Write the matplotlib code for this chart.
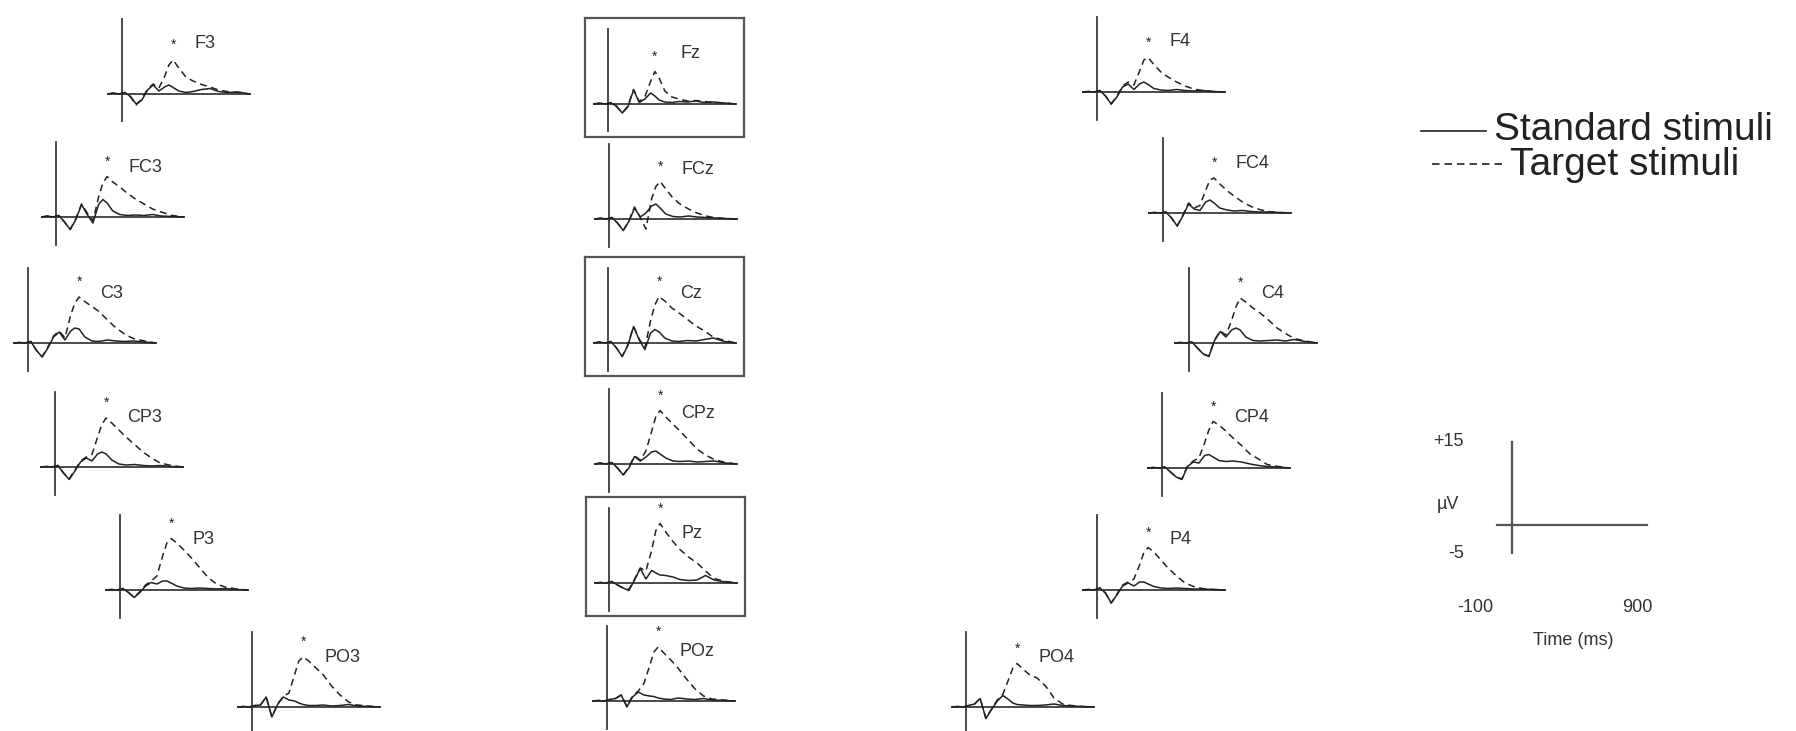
import matplotlib
matplotlib.use("Agg")
import matplotlib.pyplot as plt

plt.rcParams['font.family'] = ['Liberation Sans', 'DejaVu Sans']

# sample times (ms) shared by every waveform
times = [-100, -60, -20, 20, 60, 100, 140, 180, 220, 260, 300, 330, 360,
         400, 450, 500, 560, 620, 680, 740, 820, 900]

# amplitudes in microvolts
f3_standard = [0, 0.2, 0, 0.3, -0.5, -2.0, -1.2, 0.8, 1.8, 0.6, 1.4, 1.8, 1.3, 0.6, 0.3, 0.5, 0.9, 1.1, 0.5, 0.3, 0.4, 0]
f3_target = [0, 0.2, 0, 0.3, -0.6, -2.2, -1.0, 1.0, 2.0, 1.2, 3.5, 5.8, 6.8, 5.2, 3.4, 2.6, 1.9, 1.4, 0.8, 0.5, 0.3, 0]
fc3_standard = [0, 0.2, 0, 0.3, -1.0, -2.5, -0.5, 2.5, 0.5, -1.2, 2.5, 3.5, 2.8, 1.2, 0.5, 0.3, 0.4, 0.3, 0.5, 0.2, 0.1, 0]
fc3_target = [0, 0.2, 0, 0.3, -1.0, -2.5, -0.3, 2.6, 0.8, -0.8, 4.0, 6.8, 8.1, 7.0, 6.0, 4.8, 3.6, 2.6, 1.6, 1.0, 0.3, 0]
c3_standard = [0, 0.1, 0, 0.3, -1.5, -2.8, -1.0, 1.2, 2.2, 0.6, 2.4, 3.0, 2.8, 1.2, 0.4, 0.3, 0.6, 0.4, 0.3, 0.4, 0.2, 0]
c3_target = [0, 0.1, 0, 0.3, -1.5, -2.7, -0.8, 1.4, 2.4, 1.0, 5.5, 8.0, 9.2, 8.3, 7.3, 6.3, 4.6, 3.0, 1.8, 0.9, 0.4, 0]
cp3_standard = [0, 0.1, 0, 0.3, -1.2, -2.5, -0.8, 1.0, 1.8, 1.2, 2.6, 3.0, 2.6, 1.4, 0.6, 0.4, 0.5, 0.3, 0.2, 0.3, 0.1, 0]
cp3_target = [0, 0.1, 0, 0.3, -1.2, -2.4, -0.6, 1.2, 2.0, 2.5, 6.0, 8.5, 9.8, 8.8, 7.4, 6.0, 4.5, 3.0, 1.8, 0.8, 0.3, 0]
p3_standard = [0, 0.1, 0, 0.3, -0.5, -1.5, -0.5, 0.8, 1.5, 1.2, 1.8, 1.8, 1.4, 0.8, 0.4, 0.3, 0.4, 0.3, 0.2, 0.3, 0.1, 0]
p3_target = [0, 0.1, 0, 0.3, -0.5, -1.5, -0.3, 1.0, 1.8, 2.8, 6.8, 9.4, 10.3, 9.4, 8.0, 6.5, 4.5, 2.5, 1.2, 0.6, 0.2, 0]
po3_standard = [0, 0.1, 0, 0.3, 0.4, 2.0, -2.0, 0.5, 2.0, 1.4, 1.2, 0.8, 0.5, 0.3, 0.3, 0.4, 0.2, 0.3, 0.5, 0.2, 0.1, 0]
po3_target = [0, 0.1, 0, 0.3, 0.4, 2.0, -2.0, 0.6, 2.1, 2.8, 6.5, 9.2, 10.0, 9.2, 7.8, 6.5, 4.2, 2.4, 1.0, 0.4, 0.2, 0]

fz_standard = [0, 0.2, 0, 0.2, -0.4, -1.8, -0.6, 2.8, 0.3, 1.0, 2.2, 1.6, 0.8, 0.4, 0.3, 0.5, 0.4, 0.6, 0.3, 0.4, 0.2, 0]
fz_target = [0, 0.1, 0, 0.3, -0.5, -1.8, -0.4, 2.9, 0.5, 1.5, 4.5, 6.5, 5.2, 2.6, 1.4, 1.0, 0.6, 0.7, 0.5, 0.3, 0.2, 0]
fcz_standard = [0, 0.2, 0, 0.3, -0.8, -2.3, -0.5, 2.2, 0.4, 1.2, 2.6, 3.0, 2.2, 1.0, 0.5, 0.4, 0.6, 0.4, 0.3, 0.2, 0.1, 0]
fcz_target = [0, 0.1, 0, 0.3, -0.8, -2.3, -0.3, 2.4, 0.3, -2.0, 4.0, 6.5, 7.5, 6.0, 4.2, 3.0, 2.0, 1.2, 0.6, 0.3, 0.1, 0]
cz_standard = [0, 0.2, 0, 0.3, -1.0, -2.7, -0.5, 3.3, 0.6, -1.3, 2.0, 2.7, 2.2, 1.0, 0.4, 0.3, 0.5, 0.4, 0.7, 1.0, 0.3, 0]
cz_target = [0, 0.2, 0, 0.3, -1.0, -2.7, -0.3, 3.3, 0.8, -1.0, 4.5, 7.6, 9.3, 8.4, 7.0, 6.0, 4.7, 3.4, 2.4, 1.2, 0.5, 0]
cpz_standard = [0, 0.2, 0, 0.3, -0.8, -2.2, -0.8, 1.5, 0.6, 1.4, 2.4, 2.6, 2.0, 1.2, 0.6, 0.5, 0.6, 0.4, 0.5, 0.6, 0.2, 0]
cpz_target = [0, 0.2, 0, 0.3, -0.8, -2.2, -0.6, 1.6, 0.8, 2.6, 6.5, 9.5, 10.7, 9.4, 8.0, 6.6, 4.8, 3.0, 1.8, 0.9, 0.3, 0]
pz_standard = [0, 0.1, 0, 0.3, -0.4, -1.0, -1.5, 0.6, 2.9, 0.8, 2.5, 2.0, 1.6, 1.5, 1.2, 0.7, 0.5, 0.6, 1.5, 0.6, 0.2, 0]
pz_target = [0, 0.1, 0, 0.3, -0.4, -1.0, -1.3, 0.8, 3.0, 2.4, 6.5, 10.5, 11.9, 10.2, 8.3, 6.7, 5.2, 4.0, 2.4, 0.9, 0.3, 0]
poz_standard = [0, 0.1, 0, 0.3, 0.5, 1.2, -1.2, 0.8, 1.8, 1.2, 1.0, 0.9, 0.6, 0.4, 0.3, 0.6, 0.4, 0.3, 0.5, 0.2, 0.1, 0]
poz_target = [0, 0.1, 0, 0.3, 0.5, 1.2, -1.0, 1.0, 2.0, 3.5, 7.0, 9.8, 10.8, 9.6, 8.2, 6.6, 4.4, 2.4, 1.0, 0.4, 0.2, 0]

f4_standard = [0, 0.1, 0, 0.3, -0.8, -2.4, -1.0, 1.0, 1.6, 0.5, 1.6, 2.0, 1.5, 0.7, 0.4, 0.3, 0.5, 0.3, 0.2, 0.3, 0.1, 0]
f4_target = [0, 0.1, 0, 0.3, -0.8, -2.4, -0.8, 1.2, 2.0, 1.4, 4.2, 6.4, 6.9, 5.5, 4.0, 3.0, 2.0, 1.2, 0.6, 0.3, 0.1, 0]
fc4_standard = [0, 0.1, 0, 0.2, -1.0, -2.6, -0.6, 1.8, 0.8, 0.5, 2.2, 2.6, 2.0, 1.0, 0.6, 0.4, 0.5, 0.3, 0.2, 0.2, 0.1, 0]
fc4_target = [0, 0.1, 0, 0.2, -1.0, -2.6, -0.4, 2.0, 1.0, 1.5, 4.5, 6.6, 7.0, 5.8, 4.5, 3.4, 2.2, 1.3, 0.7, 0.3, 0.1, 0]
c4_standard = [0, 0.1, 0, 0.2, -1.0, -2.2, -2.7, 0.5, 2.3, 1.2, 2.6, 3.0, 2.6, 1.2, 0.5, 0.4, 0.5, 0.6, 0.4, 0.7, 0.3, 0]
c4_target = [0, 0.1, 0, 0.2, -1.0, -2.2, -2.6, 0.6, 2.4, 1.6, 4.5, 7.2, 9.0, 8.2, 7.0, 6.0, 4.6, 3.0, 1.9, 0.9, 0.4, 0]
cp4_standard = [0, 0.1, 0, 0.2, -0.8, -1.8, -2.3, 0.3, 1.2, 1.0, 2.5, 2.7, 2.2, 1.5, 1.3, 1.4, 1.2, 0.8, 0.5, 0.3, 0.2, 0]
cp4_target = [0, 0.1, 0, 0.2, -0.8, -1.8, -2.2, 0.4, 1.4, 2.0, 5.0, 7.6, 9.3, 8.6, 7.4, 6.0, 4.5, 2.8, 1.8, 0.7, 0.3, 0]
p4_standard = [0, 0.1, 0, 0.4, -0.6, -2.6, -1.0, 0.8, 1.4, 0.8, 1.6, 1.6, 1.2, 0.7, 0.4, 0.3, 0.4, 0.3, 0.2, 0.2, 0.1, 0]
p4_target = [0, 0.1, 0, 0.4, -0.6, -2.6, -0.8, 1.0, 1.6, 2.2, 5.0, 7.5, 8.5, 7.6, 6.0, 4.4, 2.8, 1.4, 0.7, 0.3, 0.1, 0]
po4_standard = [0, 0.1, 0, 0.3, 0.6, 1.7, -2.3, -0.5, 1.2, 2.3, 1.5, 0.8, 0.5, 0.4, 0.3, 0.3, 0.4, 0.6, 0.3, 0.2, 0.1, 0]
po4_target = [0, 0.1, 0, 0.3, 0.6, 1.7, -2.3, -0.4, 1.4, 2.6, 5.5, 7.8, 8.7, 7.6, 6.4, 5.8, 4.2, 1.8, 0.6, 0.3, 0.1, 0]

channels = ['F3', 'FC3', 'C3', 'CP3', 'P3', 'PO3',
            'Fz', 'FCz', 'Cz', 'CPz', 'Pz', 'POz',
            'F4', 'FC4', 'C4', 'CP4', 'P4', 'PO4']
boxed = ['Fz', 'Cz', 'Pz']

waves = {
    'F3': (f3_standard, f3_target), 'FC3': (fc3_standard, fc3_target),
    'C3': (c3_standard, c3_target), 'CP3': (cp3_standard, cp3_target),
    'P3': (p3_standard, p3_target), 'PO3': (po3_standard, po3_target),
    'Fz': (fz_standard, fz_target), 'FCz': (fcz_standard, fcz_target),
    'Cz': (cz_standard, cz_target), 'CPz': (cpz_standard, cpz_target),
    'Pz': (pz_standard, pz_target), 'POz': (poz_standard, poz_target),
    'F4': (f4_standard, f4_target), 'FC4': (fc4_standard, fc4_target),
    'C4': (c4_standard, c4_target), 'CP4': (cp4_standard, cp4_target),
    'P4': (p4_standard, p4_target), 'PO4': (po4_standard, po4_target),
}

# layout: pixel position of each panel's origin (0 ms, 0 uV)
W, H = 1796, 731
origin = {
    'F3': (122, 94), 'FC3': (56, 217), 'C3': (28, 343),
    'CP3': (55, 467), 'P3': (120, 590), 'PO3': (252, 707),
    'Fz': (608, 104), 'FCz': (609, 219), 'Cz': (608, 343),
    'CPz': (609, 464), 'Pz': (609, 583), 'POz': (607, 701),
    'F4': (1097, 92), 'FC4': (1163, 213), 'C4': (1189, 343),
    'CP4': (1162, 468), 'P4': (1097, 590), 'PO4': (966, 707),
}
PX_MS = 0.142
PX_UV = 5.0
XL = (-160, 960)
YL = (-6.5, 17.2)
INK = '#222222'
AXIS = '#3c3c3c'
DASH = (0, (4.5, 3))


def pixel_axes(fig, left, right, top, bottom):
    return fig.add_axes([left / W, 1 - bottom / H, (right - left) / W, (bottom - top) / H])


def draw_panel(fig, name):
    vx, base = origin[name]
    ax = pixel_axes(fig, vx + XL[0] * PX_MS, vx + XL[1] * PX_MS,
                    base - YL[1] * PX_UV, base - YL[0] * PX_UV)
    ax.set_xlim(XL)
    ax.set_ylim(YL)
    ax.set_xticks([])
    ax.set_yticks([])
    ax.patch.set_alpha(0)
    for s in ax.spines.values():
        s.set_visible(name in boxed)
        s.set_linewidth(1.6)
        s.set_color('#555555')

    ax.plot([-100, 900], [0, 0], color=AXIS, lw=1.3)
    ax.plot([0, 0], [-5.5, 15], color=AXIS, lw=1.3)

    std, tgt = waves[name]
    ax.plot(times, std, color=INK, lw=1.1)
    ax.plot(times, tgt, color=INK, lw=1.1, ls=DASH)

    # significance marker above the target peak
    ipk = tgt.index(max(tgt))
    ax.text(times[ipk], tgt[ipk] + 3.0, '*', ha='center', va='center',
            fontsize=10, color=INK)
    ax.text(510, 10, name, ha='left', va='center', fontsize=13, color='#333333')


fig = plt.figure(figsize=(W / 100, H / 100), dpi=100)

for ch in channels:
    draw_panel(fig, ch)

# legend
leg = pixel_axes(fig, 0, W, 0, H)
leg.set_xlim(0, W)
leg.set_ylim(H, 0)
leg.axis('off')
leg.plot([1421, 1486], [131, 131], color=INK, lw=1.2)
leg.plot([1432, 1503], [164, 164], color=INK, lw=1.2, ls=DASH)
leg.text(1494, 130, 'Standard stimuli', fontsize=28, va='center', ha='left', color='#222222')
leg.text(1510, 165, 'Target stimuli', fontsize=28, va='center', ha='left', color='#222222')

# scale bar
sb = pixel_axes(fig, 1497, 1647, 442, 553)
sb.set_xlim(-100, 900)
sb.set_ylim(-5, 15)
sb.axis('off')
sb.plot([-100, 900], [0, 0], color='#555555', lw=1.6, clip_on=False)
sb.plot([0, 0], [-5, 15], color='#555555', lw=1.6, clip_on=False)
lab = dict(fontsize=13, color='#333333', clip_on=False)
sb.text(-320, 15, '+15', ha='right', va='center', **lab)
sb.text(-350, 3.8, 'µV', ha='right', va='center', **lab)
sb.text(-320, -5, '-5', ha='right', va='center', **lab)
sb.text(-247, -14.8, '-100', ha='center', va='center', **lab)
sb.text(833, -14.8, '900', ha='center', va='center', **lab)
sb.text(410, -20.8, 'Time (ms)', ha='center', va='center', **lab)

fig.savefig('out.png', dpi=100, facecolor='white')
